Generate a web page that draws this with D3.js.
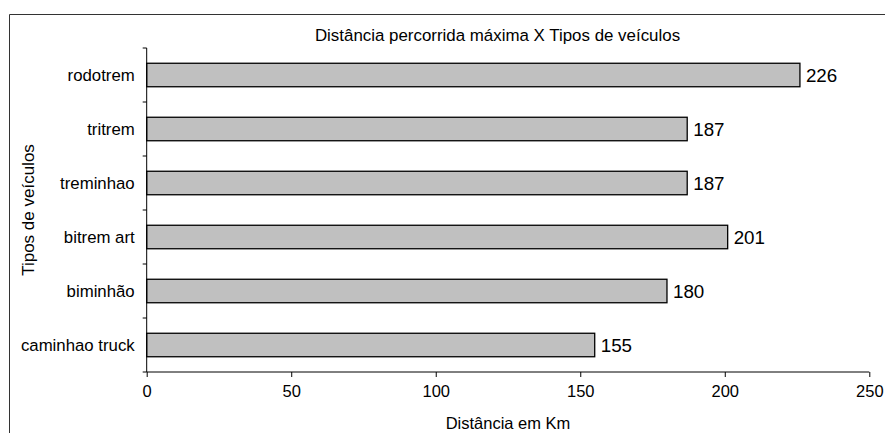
<!DOCTYPE html>
<html>
<head>
<meta charset="utf-8">
<script src="https://cdn.jsdelivr.net/npm/d3@7"></script>
<style>
  html, body { margin: 0; padding: 0; background: #fff; }
  svg { display: block; font-family: "Liberation Sans", Arial, sans-serif; }
</style>
</head>
<body>
<svg id="chart" width="885" height="433"></svg>
<script>
// Vehicle types, top to bottom, and their maximum distance (km)
const categories = ["rodotrem", "tritrem", "treminhao", "bitrem art", "biminhão", "caminhao truck"];
const distances = [226, 187, 187, 201, 180, 155];
const xTicks = [0, 50, 100, 150, 200, 250];

const title = "Distância percorrida máxima X Tipos de veículos";
const xTitle = "Distância em Km";
const yTitle = "Tipos de veículos";

const svg = d3.select("#chart");
const W = 885, H = 433;

const plot = { left: 146.7, right: 869.3, top: 48, bottom: 372 };

const x = d3.scaleLinear().domain([0, 250]).range([plot.left, plot.right]);
const y = d3.scaleBand().domain(categories).range([plot.top, plot.bottom]).paddingInner(0.565).paddingOuter(0.2825);

// chart frame (top and left edges)
svg.append("path")
  .attr("d", `M9.5,${H} V14.5 H${W}`)
  .attr("fill", "none")
  .attr("stroke", "#333")
  .attr("stroke-width", 1);

// title
svg.append("text")
  .attr("x", 497.5).attr("y", 41)
  .attr("text-anchor", "middle")
  .attr("font-size", 16.9)
  .attr("fill", "#000")
  .text(title);

// bars
const data = categories.map((c, i) => ({ c, v: distances[i] }));
svg.append("g").selectAll("rect").data(data).join("rect")
  .attr("x", x(0))
  .attr("y", d => y(d.c))
  .attr("width", d => x(d.v) - x(0))
  .attr("height", y.bandwidth())
  .attr("fill", "#c0c0c0")
  .attr("stroke", "#000")
  .attr("stroke-width", 1.3);

// value labels
svg.append("g").selectAll("text").data(data).join("text")
  .attr("x", d => x(d.v) + 6)
  .attr("y", d => y(d.c) + y.bandwidth() / 2)
  .attr("dy", "0.36em")
  .attr("font-size", 18.8)
  .attr("fill", "#000")
  .text(d => d.v);

// x axis
const xAxis = svg.append("g")
  .attr("transform", `translate(0,${plot.bottom})`)
  .call(d3.axisBottom(x).tickValues(xTicks).tickSize(5).tickPadding(8).tickFormat(d3.format("d")));
xAxis.select(".domain").attr("stroke", "#000").attr("d", `M${plot.left},0H${plot.right}`);
xAxis.selectAll(".tick line").attr("stroke", "#000");
xAxis.selectAll(".tick text").attr("font-size", 16.5).attr("fill", "#000").attr("font-family", null);

// y axis: tick marks sit on band boundaries, labels centred in each band
const yAxis = svg.append("g").attr("transform", `translate(${plot.left},0)`);
yAxis.append("line")
  .attr("x1", 0).attr("x2", 0)
  .attr("y1", plot.top).attr("y2", plot.bottom)
  .attr("stroke", "#000");
const step = y.step();
const bounds = d3.range(categories.length + 1).map(i => plot.top + i * step);
yAxis.selectAll("line.tk").data(bounds).join("line")
  .attr("class", "tk")
  .attr("x1", -4).attr("x2", 0)
  .attr("y1", d => d).attr("y2", d => d)
  .attr("stroke", "#000");
yAxis.selectAll("text").data(categories).join("text")
  .attr("x", -12)
  .attr("y", d => y(d) + y.bandwidth() / 2)
  .attr("dy", "0.36em")
  .attr("text-anchor", "end")
  .attr("font-size", 16.8)
  .attr("fill", "#000")
  .text(d => d);

// axis titles
svg.append("text")
  .attr("x", (plot.left + plot.right) / 2).attr("y", 428.5)
  .attr("text-anchor", "middle")
  .attr("font-size", 16.5)
  .attr("fill", "#000")
  .text(xTitle);

svg.append("text")
  .attr("transform", `translate(34,${(plot.top + plot.bottom) / 2}) rotate(-90)`)
  .attr("text-anchor", "middle")
  .attr("font-size", 17)
  .attr("fill", "#000")
  .text(yTitle);
</script>
</body>
</html>
